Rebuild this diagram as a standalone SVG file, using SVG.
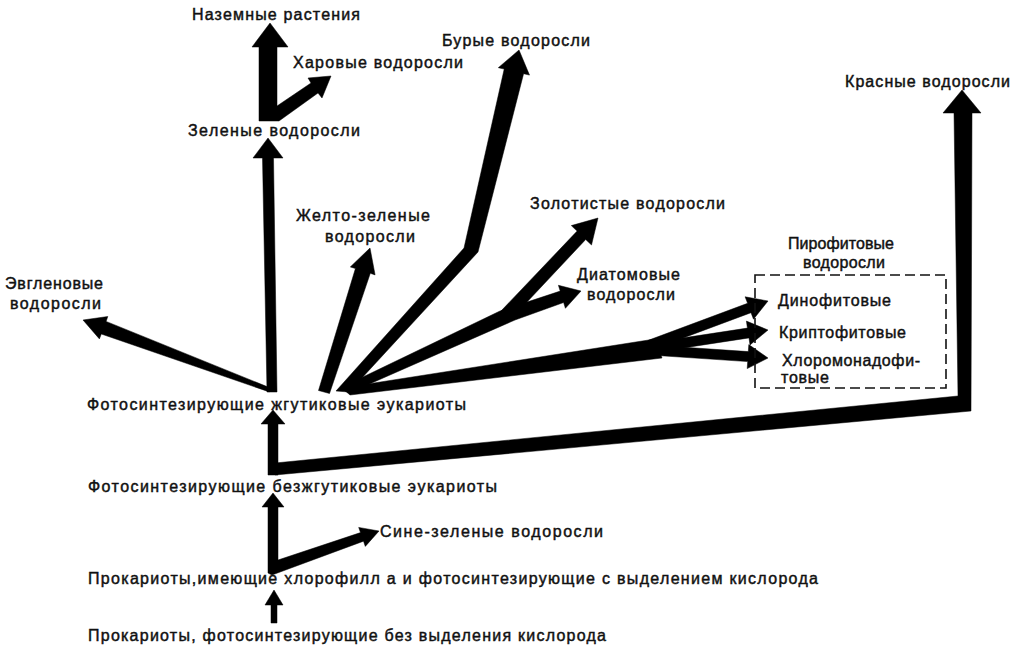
<svg xmlns="http://www.w3.org/2000/svg" width="1020" height="655" viewBox="0 0 1020 655">
<style>
.t{font-family:"Liberation Sans",Arial,sans-serif;font-size:16px;fill:#111;stroke:#111;stroke-width:0.45}
.a{fill:#000;stroke:#000;stroke-width:0.5;stroke-linejoin:miter}
.box{fill:none;stroke:#111;stroke-width:1.6;stroke-dasharray:10 5}
</style>
<rect width="1020" height="655" fill="#fff"/>
<g id="connectors">
<polygon class="a" points="259,121 259,47 252,47 270,23 288,47 277,47 277,106 311,83 308,78 331,76 322,98 318,93 279,121"/>
<polygon class="a" points="277,392 273.5,158 283,158 268,138 253,158 262.5,158 267,392"/>
<polygon class="a" points="270.7,388.1 106.1,321.4 107.8,316.5 83,320 99.4,338.9 101.3,334 269.3,391.9"/>
<polygon class="a" points="318.5,390.5 355.4,268.6 350.3,266.9 370,248 375.1,274.9 370.3,273.3 329.5,393.5"/>
<polygon class="a" points="336,391 464,248 504.2,69.1 498.3,67.7 519,50 529.5,75.1 523.6,73.7 478,252 349,392"/>
<polygon class="a" points="340,388 500,311 560.2,291.1 558.4,285.3 581,291 565.4,308.3 563.6,302.5 515,320 349,393"/>
<polygon class="a" points="501,311 577.1,231.1 571.3,225.6 598,218 591.5,245 585.7,239.5 512,318"/>
<polygon class="a" points="342,388 655,339 662,358 350,395"/>
<polygon class="a" points="648.3,340.3 747.6,303.3 745.1,296.8 768,301 753.5,319.2 751,312.7 651.7,349.7"/>
<polygon class="a" points="649.2,343.1 747.4,328.1 746.4,321.1 768,330 750,344.9 749,337.9 650.8,352.9"/>
<polygon class="a" points="650.3,345 748.3,351.6 748.8,344.6 768,358 747.2,368.6 747.7,361.6 649.7,355"/>
<polygon class="a" points="275,463 958,396 954,113 943,113 962,90 981,113 972,113 971,411 275,475"/>
<polygon class="a" points="268,475 268,424 261,424 273,410 285,424 278,424 278,475"/>
<polygon class="a" points="268,573 268,507 262,507 273,493 284,507 278,507 278,560 360.5,532.6 358.7,527.4 379,531 365.3,546.4 363.5,541.2 272,575"/>
<polygon class="a" points="271,623 271,605 265,605 274,590 283,605 277,605 277,623"/>
</g>
<g id="n-nazemnye"><text class="t" x="192" y="20" textLength="168" lengthAdjust="spacing">Наземные растения</text></g>
<g id="n-harovye"><text class="t" x="293" y="68" textLength="170" lengthAdjust="spacing">Харовые водоросли</text></g>
<g id="n-burye"><text class="t" x="442" y="46" textLength="148" lengthAdjust="spacing">Бурые водоросли</text></g>
<g id="n-krasnye"><text class="t" x="845" y="87" textLength="165" lengthAdjust="spacing">Красные водоросли</text></g>
<g id="n-zelenye"><text class="t" x="188" y="136" textLength="172" lengthAdjust="spacing">Зеленые  водоросли</text></g>
<g id="n-zheltozelenye"><text class="t" x="296" y="221" textLength="134" lengthAdjust="spacing">Желто-зеленые</text><text class="t" x="325" y="242" textLength="90" lengthAdjust="spacing">водоросли</text></g>
<g id="n-zolotistye"><text class="t" x="530" y="209" textLength="195" lengthAdjust="spacing">Золотистые водоросли</text></g>
<g id="n-pirofitovye"><text class="t" x="788" y="249" textLength="106">Пирофитовые</text><text class="t" x="803" y="268" textLength="82">водоросли</text><rect class="box" x="755" y="275" width="191" height="113"/></g>
<g id="n-diatomovye"><text class="t" x="577" y="280" textLength="103" lengthAdjust="spacing">Диатомовые</text><text class="t" x="587" y="300" textLength="88" lengthAdjust="spacing">водоросли</text></g>
<g id="n-evglenovye"><text class="t" x="5" y="289" textLength="98" lengthAdjust="spacing">Эвгленовые</text><text class="t" x="10" y="309" textLength="91" lengthAdjust="spacing">водоросли</text></g>
<g id="n-dinofitovye"><text class="t" x="778" y="306" textLength="113" lengthAdjust="spacing">Динофитовые</text></g>
<g id="n-kriptofitovye"><text class="t" x="779" y="338" textLength="127" lengthAdjust="spacing">Криптофитовые</text></g>
<g id="n-hloromonado"><text class="t" x="782" y="366" textLength="138" lengthAdjust="spacing">Хлоромонадофи-</text><text class="t" x="781" y="383" textLength="48" lengthAdjust="spacing">товые</text></g>
<g id="n-zhgutikovye"><text class="t" x="87" y="410" textLength="379" lengthAdjust="spacing">Фотосинтезирующие  жгутиковые эукариоты</text></g>
<g id="n-bezzhgutikovye"><text class="t" x="88" y="492" textLength="409" lengthAdjust="spacing">Фотосинтезирующие  безжгутиковые эукариоты</text></g>
<g id="n-sinezelenye"><text class="t" x="380" y="537" textLength="223" lengthAdjust="spacing">Сине-зеленые  водоросли</text></g>
<g id="n-prokarioty-a"><text class="t" x="88" y="584" textLength="730" lengthAdjust="spacing">Прокариоты,имеющие хлорофилл а и фотосинтезирующие с выделением  кислорода</text></g>
<g id="n-prokarioty"><text class="t" x="88" y="641" textLength="518" lengthAdjust="spacing">Прокариоты, фотосинтезирующие без выделения  кислорода</text></g>
</svg>
